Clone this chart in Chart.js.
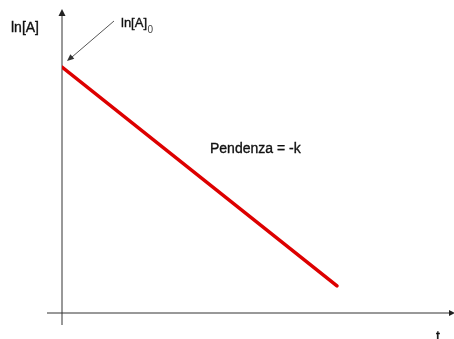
<!DOCTYPE html>
<html>
<head>
<meta charset="utf-8">
<script src="https://cdn.jsdelivr.net/npm/chart.js@4"></script>
<style>
  body { margin: 0; background: #fff; }
  #box { width: 454px; height: 339px; position: relative; }
</style>
</head>
<body>
<div id="box"><canvas id="chartKinetics"></canvas></div>
<script>
// first-order kinetics: ln[A] vs t (qualitative sketch)
const tValues = [0, 7.05];
const lnAValues = [8.17, 0.9];
const yAxisLabel = 'ln[A]';
const xAxisLabel = 't';
const interceptLabel = 'ln[A]';
const interceptSub = '0';
const slopeLabel = 'Pendenza = -k';

function arrowHead(ctx, x, y, angle, len, half) {
    ctx.save();
    ctx.translate(x, y);
    ctx.rotate(angle);
    ctx.beginPath();
    ctx.moveTo(0, 0);
    ctx.lineTo(-len, -half);
    ctx.lineTo(-len, half);
    ctx.closePath();
    ctx.fill();
    ctx.restore();
}

// text drawn a little heavier, like the blurred original
function heavyText(ctx, txt, x, y) {
    ctx.fillText(txt, x, y);
    ctx.strokeText(txt, x, y);
}

const sketchAxes = {
    id: 'sketchAxes',
    beforeDatasetsDraw(chart) {
        const ctx = chart.ctx;
        const x0 = chart.scales.x.getPixelForValue(0);
        const y0 = chart.scales.y.getPixelForValue(0);
        ctx.save();
        ctx.strokeStyle = '#333';
        ctx.fillStyle = '#222';
        ctx.lineWidth = 1;
        // vertical axis
        ctx.beginPath();
        ctx.moveTo(x0, y0 + 12);
        ctx.lineTo(x0, 14);
        ctx.stroke();
        arrowHead(ctx, x0, 9, -Math.PI / 2, 7, 3.5);
        // horizontal axis
        ctx.beginPath();
        ctx.moveTo(x0 - 15, y0);
        ctx.lineTo(450, y0);
        ctx.stroke();
        arrowHead(ctx, 455, y0, 0, 6, 3);
        ctx.restore();
    },
    afterDatasetsDraw(chart) {
        const ctx = chart.ctx;
        ctx.save();
        ctx.fillStyle = '#111';
        ctx.strokeStyle = '#111';
        ctx.lineWidth = 0.35;
        ctx.textBaseline = 'alphabetic';
        ctx.font = '14px "Liberation Sans", Arial, sans-serif';
        heavyText(ctx, yAxisLabel, 11, 32);
        heavyText(ctx, slopeLabel, 210, 153);
        heavyText(ctx, xAxisLabel, 436, 341);
        ctx.font = '13px "Liberation Sans", Arial, sans-serif';
        heavyText(ctx, interceptLabel, 121, 27);
        const w = ctx.measureText(interceptLabel).width;
        ctx.font = '10px "Liberation Sans", Arial, sans-serif';
        ctx.fillStyle = '#444';
        ctx.fillText(interceptSub, 121 + w + 0.5, 33);
        // pointer arrow to the intercept
        ctx.strokeStyle = '#555';
        ctx.fillStyle = '#333';
        ctx.lineWidth = 1;
        ctx.beginPath();
        ctx.moveTo(114, 21);
        ctx.lineTo(72, 57);
        ctx.stroke();
        arrowHead(ctx, 67, 61, Math.atan2(40, -47), 7, 3);
        ctx.restore();
    }
};

const ctxKinetics = document.getElementById('chartKinetics');
const chartKinetics = new Chart(ctxKinetics, {
    type: 'line',
    data: {
        datasets: [{
            data: tValues.map((t, i) => ({ x: t, y: lnAValues[i] })),
            borderColor: '#dd0000',
            borderWidth: 3.5,
            pointRadius: 0,
            borderCapStyle: 'round',
            tension: 0
        }]
    },
    options: {
        responsive: true,
        maintainAspectRatio: false,
        animation: false,
        layout: { padding: { left: 62, top: 12, right: 2, bottom: 26 } },
        plugins: { legend: { display: false }, tooltip: { enabled: false } },
        scales: {
            x: { type: 'linear', min: 0, max: 10, display: false },
            y: { min: 0, max: 10, display: false }
        }
    },
    plugins: [sketchAxes]
});
</script>
</body>
</html>
